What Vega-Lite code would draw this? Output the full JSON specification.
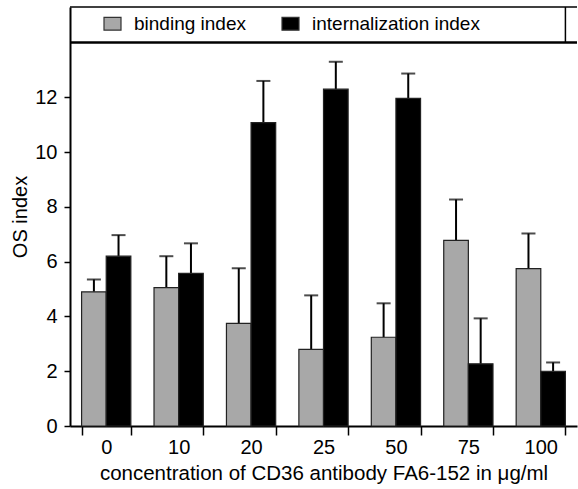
{
  "$schema": "https://vega.github.io/schema/vega-lite/v6.json",
  "width": 507,
  "height": 419,
  "autosize": {"type": "none"},
  "padding": {"left": 70, "top": 7, "right": 1, "bottom": 63},
  "background": "white",
  "config": {
    "view": {"stroke": null},
    "font": "Liberation Sans",
    "axis": {"labelFont": "Liberation Sans", "titleFont": "Liberation Sans", "labelColor": "black", "titleColor": "black", "domainColor": "black", "tickColor": "black"}
  },
  "datasets": {
    "bars": [
      {"conc": "0", "series": "binding index", "value": 4.9, "upper": 5.35},
      {"conc": "0", "series": "internalization index", "value": 6.2, "upper": 6.97},
      {"conc": "10", "series": "binding index", "value": 5.05, "upper": 6.2},
      {"conc": "10", "series": "internalization index", "value": 5.57, "upper": 6.67},
      {"conc": "20", "series": "binding index", "value": 3.75, "upper": 5.76},
      {"conc": "20", "series": "internalization index", "value": 11.08, "upper": 12.6},
      {"conc": "25", "series": "binding index", "value": 2.8, "upper": 4.77},
      {"conc": "25", "series": "internalization index", "value": 12.3, "upper": 13.3},
      {"conc": "50", "series": "binding index", "value": 3.24, "upper": 4.48},
      {"conc": "50", "series": "internalization index", "value": 11.96, "upper": 12.87},
      {"conc": "75", "series": "binding index", "value": 6.78, "upper": 8.27},
      {"conc": "75", "series": "internalization index", "value": 2.27, "upper": 3.93},
      {"conc": "100", "series": "binding index", "value": 5.75, "upper": 7.03},
      {"conc": "100", "series": "internalization index", "value": 2.0, "upper": 2.32}
    ],
    "frame": [
      {"conc": "100", "lo": 14, "hi": 15.3}
    ]
  },
  "layer": [
    {
      "data": {"name": "bars"},
      "mark": {"type": "rule", "strokeWidth": 2, "color": "black"},
      "encoding": {
        "x": {"field": "conc", "type": "ordinal", "sort": ["0","10","20","25","50","75","100"],
          "scale": {"paddingInner": 0.32, "paddingOuter": 0.16},
          "axis": {"title": "concentration of CD36 antibody FA6-152 in μg/ml", "labelAngle": 0, "labelFontSize": 20, "titleFontSize": 20.5, "titleFontWeight": "normal", "domainWidth": 2, "tickWidth": 1.5, "tickSize": 9, "tickBand": "extent", "labelPadding": 2, "titlePadding": 6}},
        "xOffset": {"field": "series", "type": "nominal", "scale": {"paddingInner": 0}},
        "y": {"field": "value", "type": "quantitative"},
        "y2": {"field": "upper"}
      }
    },
    {
      "data": {"name": "bars"},
      "mark": {"type": "tick", "size": 14, "thickness": 2, "color": "black"},
      "encoding": {
        "x": {"field": "conc", "type": "ordinal", "sort": ["0","10","20","25","50","75","100"]},
        "xOffset": {"field": "series", "type": "nominal"},
        "y": {"field": "upper", "type": "quantitative"}
      }
    },
    {
      "data": {"name": "bars"},
      "mark": {"type": "bar", "stroke": "#222", "strokeWidth": 1.2},
      "encoding": {
        "x": {"field": "conc", "type": "ordinal", "sort": ["0","10","20","25","50","75","100"]},
        "xOffset": {"field": "series", "type": "nominal"},
        "y": {"field": "value", "type": "quantitative",
          "scale": {"domain": [0, 15.3], "nice": false, "zero": true},
          "axis": {"title": "OS index", "values": [0,1,2,3,4,5,6,7,8,9,10,11,12,13],
            "labelExpr": "datum.value % 2 === 0 ? datum.label : ''",
            "tickSize": {"condition": {"test": "datum.value % 2 === 0", "value": 6}, "value": 3},
            "labelFontSize": 20, "titleFontSize": 20, "titleFontWeight": "normal",
            "domainWidth": 2, "tickWidth": 1.5, "labelPadding": 7, "titlePadding": 4, "grid": false}},
        "color": {"field": "series", "type": "nominal",
          "scale": {"domain": ["binding index", "internalization index"], "range": ["#a8a8a8", "#000000"]},
          "legend": {"orient": "none", "legendX": 33, "legendY": 7, "direction": "horizontal", "title": null,
            "labelFontSize": 19, "labelFont": "Liberation Sans", "labelColor": "black", "labelLimit": 400,
            "symbolType": "M-1,-0.76H1V0.76H-1Z", "symbolSize": 289, "symbolStrokeColor": "#333", "symbolStrokeWidth": 1.2,
            "labelOffset": 12, "columnPadding": 33}}
      }
    },
    {
      "data": {"name": "frame"},
      "mark": {"type": "rule", "strokeWidth": 2.5, "color": "black"},
      "encoding": {"y": {"field": "lo", "type": "quantitative"}}
    },
    {
      "data": {"name": "frame"},
      "mark": {"type": "rule", "strokeWidth": 1.5, "color": "black"},
      "encoding": {"y": {"field": "hi", "type": "quantitative"}}
    },
    {
      "data": {"name": "frame"},
      "mark": {"type": "rule", "strokeWidth": 1.5, "color": "black"},
      "encoding": {
        "x": {"field": "conc", "type": "ordinal", "sort": ["0","10","20","25","50","75","100"], "bandPosition": 1},
        "y": {"field": "lo", "type": "quantitative"},
        "y2": {"field": "hi"}
      }
    }
  ]
}
